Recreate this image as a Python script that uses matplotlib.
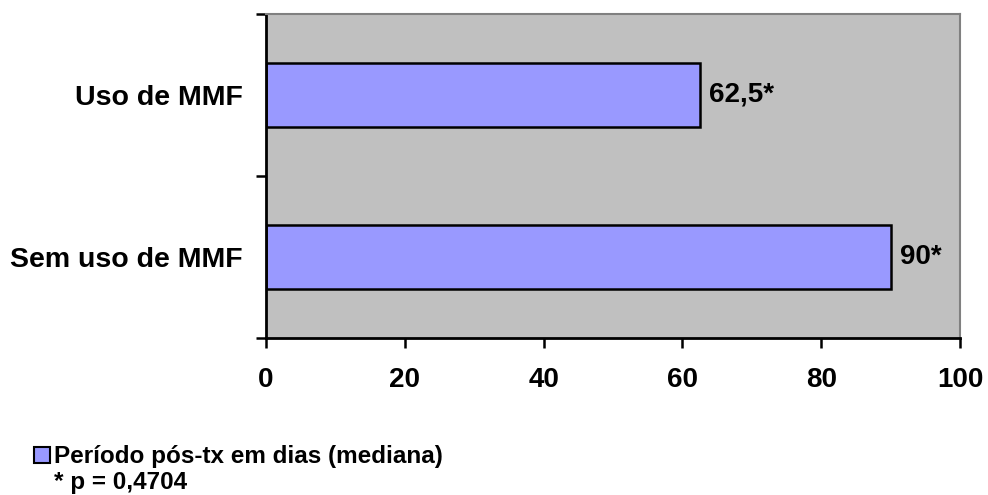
import matplotlib
matplotlib.use("Agg")
import matplotlib.pyplot as plt
from matplotlib.patches import Rectangle

categories = ["Sem uso de MMF", "Uso de MMF"]
values = [90, 62.5]
value_labels = ["90*", "62,5*"]
x_ticks = [0, 20, 40, 60, 80, 100]
legend_label = "Período pós-tx em dias (mediana)"
note = "* p = 0,4704"

plt.rcParams["font.family"] = ["Liberation Sans", "DejaVu Sans"]
plt.rcParams["font.weight"] = "bold"

bar_color = "#9999FF"
bg_color = "#C0C0C0"

W, H = 988, 495
fig = plt.figure(figsize=(W / 100, H / 100), dpi=100)
ax = fig.add_axes([266 / W, 1 - 338 / H, (960 - 266) / W, (338 - 14) / H])
ax.set_facecolor(bg_color)

ypos = [0.5, 1.5]
ax.barh(ypos, values, height=0.40, color=bar_color, edgecolor="black", linewidth=1.8)
for y, v, lab in zip(ypos, values, value_labels):
    ax.text(v + 1.3, y, lab, va="center", ha="left", fontsize=20, fontweight="bold")

ax.set_xlim(0, 100)
ax.set_ylim(0, 2)
ax.set_xticks(x_ticks)
ax.set_xticklabels([str(t) for t in x_ticks], fontsize=20, fontweight="bold")
ax.set_yticks([0, 1, 2])
ax.set_yticklabels([])
ax.set_yticks(ypos, minor=True)
ax.set_yticklabels(categories, minor=True, fontsize=20.5, fontweight="bold")
ax.tick_params(axis="y", which="minor", length=0, pad=17)
ax.tick_params(axis="y", which="major", length=7.2, width=1.8, direction="out")
ax.tick_params(axis="x", length=7.2, width=1.8, direction="out", pad=14)

for side in ("top", "right"):
    ax.spines[side].set_color("#808080")
    ax.spines[side].set_linewidth(1.5)
for side in ("left", "bottom"):
    ax.spines[side].set_color("black")
    ax.spines[side].set_linewidth(2.0)

# legend entry and footnote below the chart
fig.patches.append(Rectangle((34 / W, 1 - 463 / H), 16 / W, 16 / H,
                             transform=fig.transFigure, facecolor=bar_color,
                             edgecolor="black", linewidth=1.5))
fig.text(54 / W, 1 - 463 / H, legend_label, fontsize=17.5, fontweight="bold",
         va="baseline", ha="left")
fig.text(54 / W, 1 - 489 / H, note, fontsize=17.5, fontweight="bold",
         va="baseline", ha="left")

fig.savefig("out.png", dpi=100)
